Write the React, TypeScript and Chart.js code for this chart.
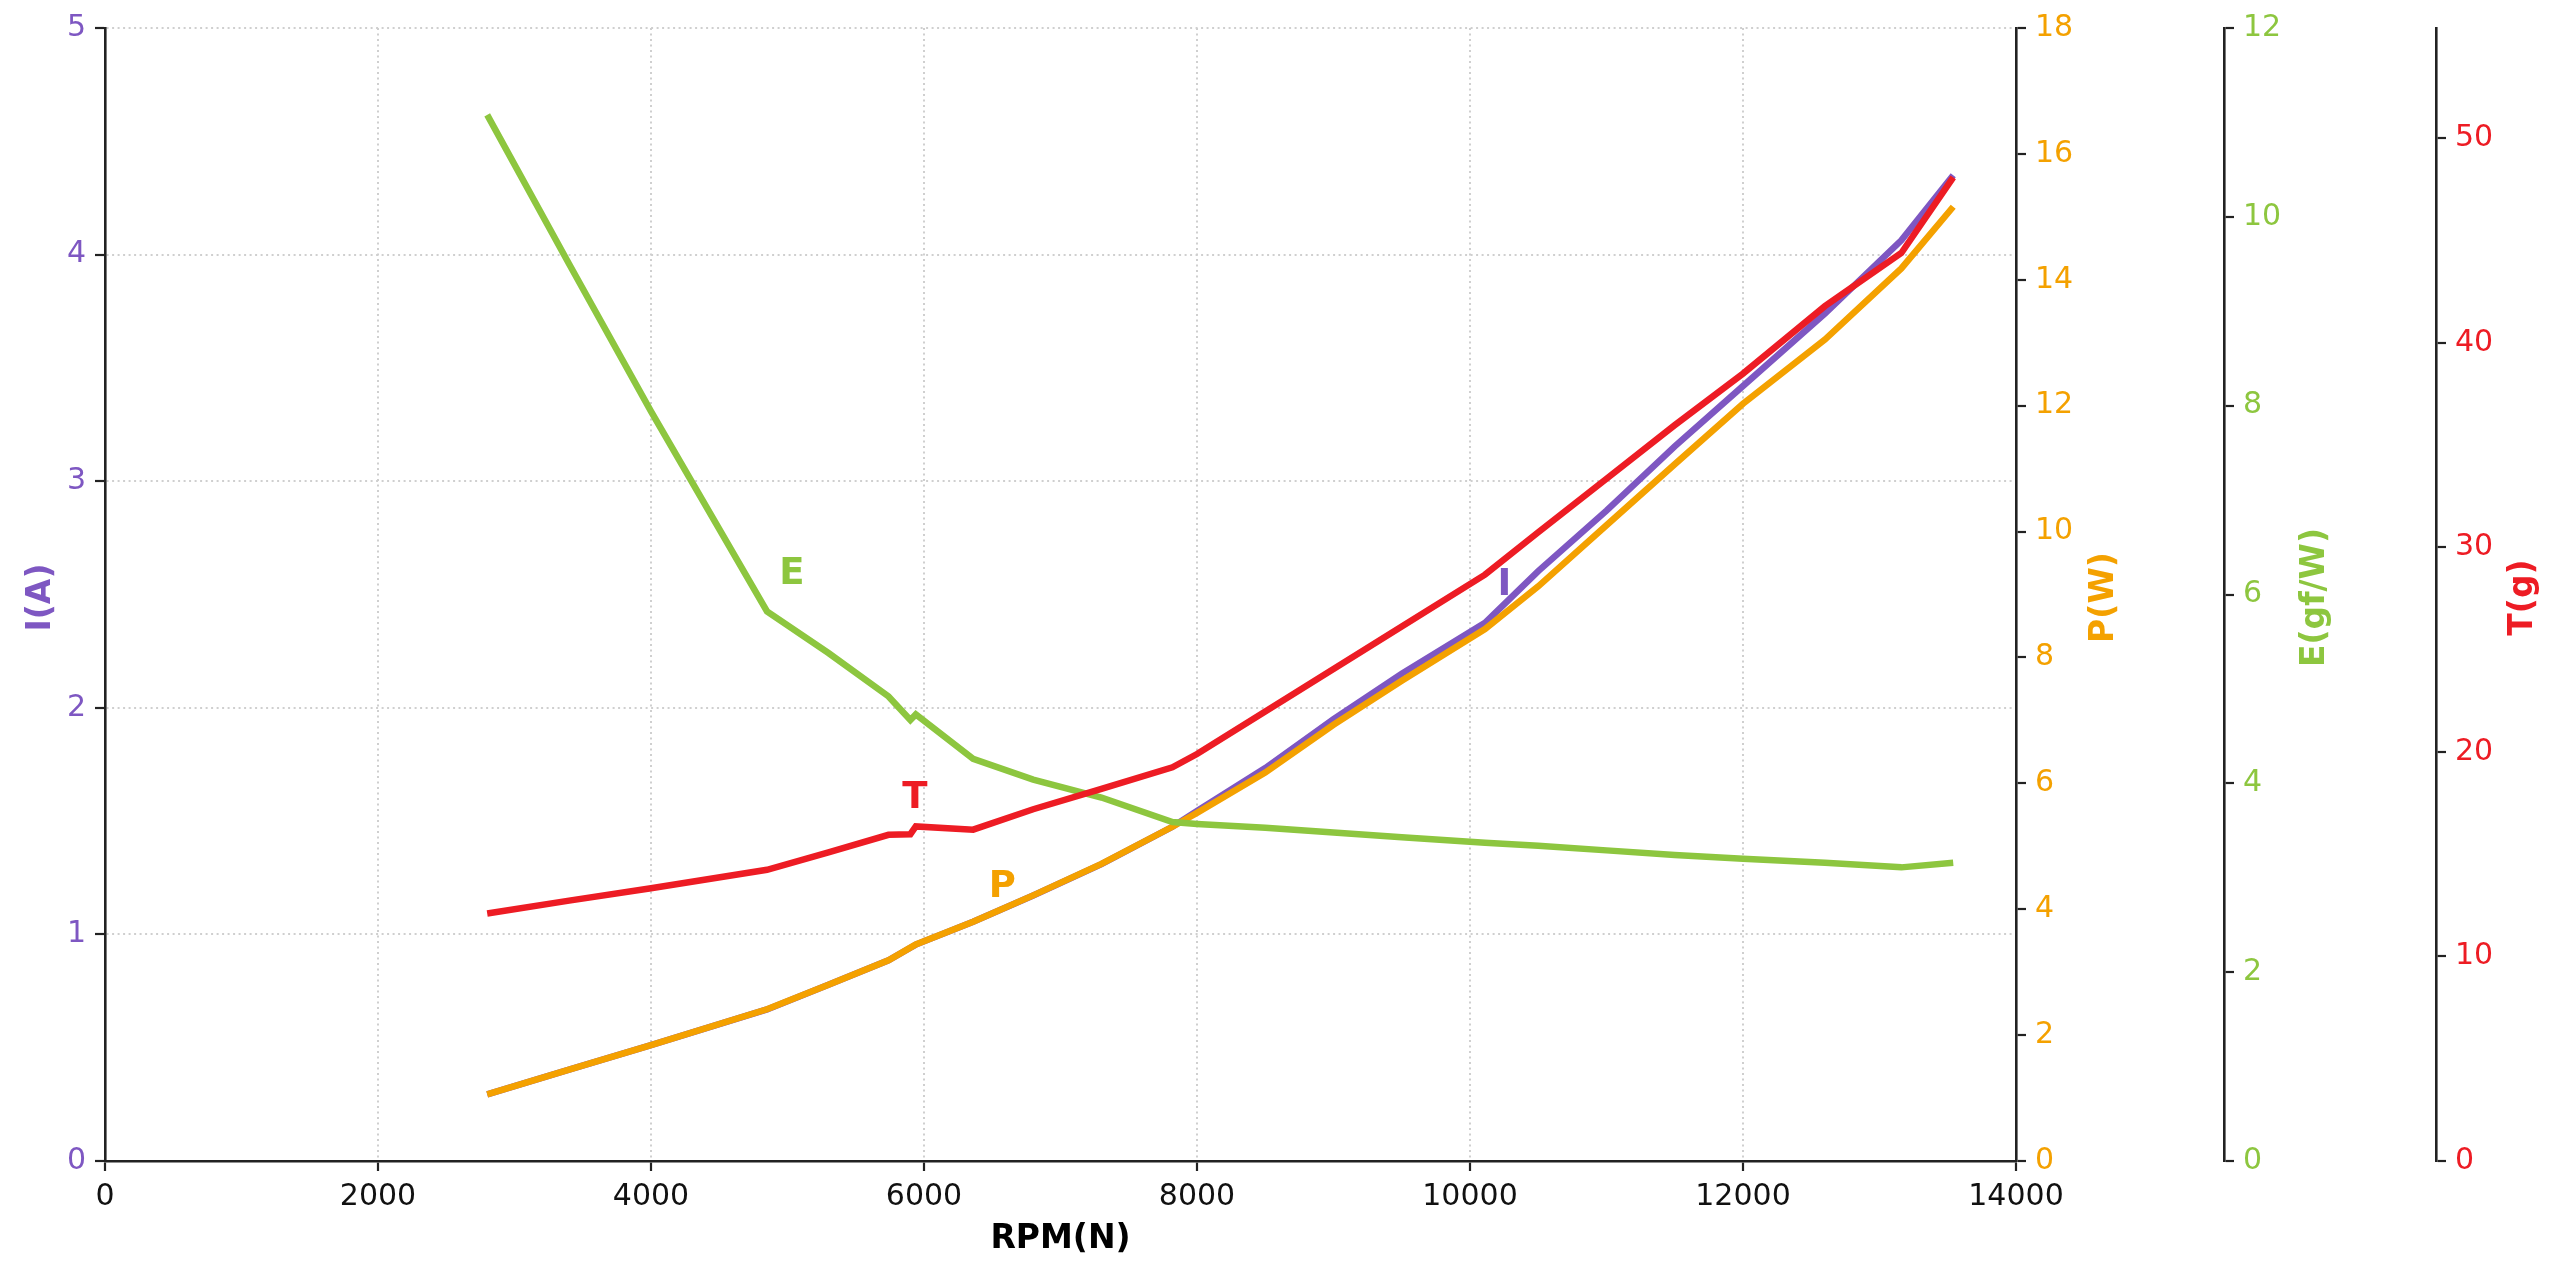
import React, { useRef, useEffect } from "react";
import { Chart, registerables } from "chart.js";

Chart.register(...registerables);
Chart.defaults.font.family = "'DejaVu Sans', sans-serif";

// motor test readings
const rpm = [
  2800, 3400, 4000, 4850, 5300, 5740, 5900, 5940, 6360, 6800, 7300, 7820,
  8000, 8500, 9000, 9500, 10110, 10500, 11000, 11500, 12000, 12600, 13160, 13540,
];
const current = [
  0.294, 0.403, 0.511, 0.669, 0.778, 0.886, 0.941, 0.955, 1.056, 1.172, 1.31, 1.475,
  1.545, 1.734, 1.95, 2.15, 2.375, 2.603, 2.87, 3.154, 3.42, 3.74, 4.063, 4.35,
];
const power = [
  1.06, 1.45, 1.84, 2.41, 2.8, 3.19, 3.39, 3.44, 3.8, 4.22, 4.72, 5.31,
  5.53, 6.17, 6.93, 7.63, 8.45, 9.13, 10.1, 11.07, 12.03, 13.05, 14.18, 15.16,
];
const efficiency = [
  11.08, 9.5, 7.94, 5.82, 5.38, 4.92, 4.67, 4.73, 4.26, 4.04, 3.85, 3.59,
  3.57, 3.53, 3.48, 3.43, 3.37, 3.34, 3.29, 3.24, 3.2, 3.16, 3.11, 3.16,
];
const thrust = [
  12.1, 12.73, 13.34, 14.24, 15.09, 15.95, 15.98, 16.36, 16.2, 17.2, 18.2, 19.25,
  19.9, 21.98, 24.06, 26.14, 28.67, 30.74, 33.36, 35.98, 38.5, 41.8, 44.4, 48.1,
];

const PURPLE = "#7e57c2";
const ORANGE = "#f4a100";
const GREEN = "#8dc63f";
const RED = "#ed1c24";

// curve tags placed in data units of their own axis
const tags = [
  { text: "E", axis: "yE", x: 5033, y: 6.21, color: GREEN },
  { text: "T", axis: "yT", x: 5934, y: 17.75, color: RED },
  { text: "P", axis: "yP", x: 6573, y: 4.34, color: ORANGE },
  { text: "I", axis: "yI", x: 10251, y: 2.54, color: PURPLE },
];

const yTitles = [
  { axis: "yI", text: "I(A)", color: PURPLE, side: -64 },
  { axis: "yP", text: "P(W)", color: ORANGE, side: 88 },
  { axis: "yE", text: "E(gf/W)", color: GREEN, side: 91 },
  { axis: "yT", text: "T(g)", color: RED, side: 87 },
];

const pts = (ys: number[]) => rpm.map((x, i) => ({ x, y: ys[i] }));

const textPlugin = {
  id: "axisText",
  afterDraw(chart: any) {
    const { ctx, scales, chartArea } = chart;
    ctx.save();
    ctx.textAlign = "center";
    ctx.textBaseline = "middle";

    ctx.font = "bold 37px 'DejaVu Sans'";
    tags.forEach((t) => {
      ctx.fillStyle = t.color;
      ctx.fillText(
        t.text,
        scales.x.getPixelForValue(t.x),
        scales[t.axis].getPixelForValue(t.y)
      );
    });

    ctx.font = "bold 33px 'DejaVu Sans'";
    ctx.fillStyle = "#000";
    ctx.fillText("RPM(N)", (chartArea.left + chartArea.right) / 2, scales.x.top + 78);

    const midY = (chartArea.top + chartArea.bottom) / 2 + 3;
    yTitles.forEach((t) => {
      const s = scales[t.axis];
      const x = t.side < 0 ? s.right + t.side : s.left + t.side;
      ctx.save();
      ctx.translate(x, midY);
      ctx.rotate(-Math.PI / 2);
      ctx.fillStyle = t.color;
      ctx.fillText(t.text, 0, 0);
      ctx.restore();
    });
    ctx.restore();
  },
};

const tickFont = { size: 30 };
const grid = { color: "#cfcfcf", lineWidth: 2, tickColor: "#222", tickLength: 10, tickWidth: 2.2 };
const border = { display: true, color: "#222", width: 2.6, dash: [2, 3.5] };

const sideAxis = (max: number, step: number, color: string, width: number) => ({
  type: "linear" as const,
  position: "right" as const,
  min: 0,
  max,
  grid: { ...grid, drawOnChartArea: false },
  border: { display: true, color: "#222", width: 2.6 },
  ticks: { stepSize: step, color, font: tickFont, padding: 9, includeBounds: false },
  afterFit: (s: any) => {
    s.width = width;
  },
});

export default function App() {
  const canvasRef = useRef<HTMLCanvasElement>(null);

  useEffect(() => {
    if (!canvasRef.current) return;
    const line = (data: number[], color: string, yAxisID: string, order: number) => ({
      data: pts(data),
      yAxisID,
      order,
      borderColor: color,
      backgroundColor: color,
      borderWidth: 6.5,
      pointRadius: 0,
      tension: 0,
      fill: false,
    });

    const chart = new Chart(canvasRef.current, {
      type: "line",
      data: {
        datasets: [
          line(current, PURPLE, "yI", 4),
          line(power, ORANGE, "yP", 3),
          line(efficiency, GREEN, "yE", 2),
          line(thrust, RED, "yT", 1),
        ],
      },
      options: {
        responsive: true,
        maintainAspectRatio: false,
        animation: false,
        layout: { padding: { top: 28, left: 0, right: 0, bottom: 0 } },
        plugins: { legend: { display: false }, tooltip: { enabled: false } },
        scales: {
          x: {
            type: "linear",
            position: "bottom",
            min: 0,
            max: 14000,
            grid,
            border,
            ticks: {
              stepSize: 2000,
              color: "#111",
              font: tickFont,
              padding: 8,
              maxRotation: 0,
              autoSkip: false,
              callback: (v: any) => String(v),
            },
            afterFit: (s: any) => {
              s.height = 114;
            },
          },
          yI: {
            type: "linear",
            position: "left",
            min: 0,
            max: 5,
            grid,
            border,
            ticks: { stepSize: 1, color: PURPLE, font: tickFont, padding: 9 },
            afterFit: (s: any) => {
              s.width = 105;
            },
          },
          yP: sideAxis(18, 2, ORANGE, 208),
          yE: sideAxis(12, 2, GREEN, 212),
          yT: sideAxis(55.4, 10, RED, 124),
        },
      },
      plugins: [textPlugin],
    });

    return () => {
      chart.destroy();
    };
  }, []);

  return (
    <div
      style={{
        position: "absolute",
        left: 0,
        top: 0,
        width: 2560,
        height: 1275,
        background: "#fff",
      }}
    >
      <canvas ref={canvasRef} />
    </div>
  );
}
